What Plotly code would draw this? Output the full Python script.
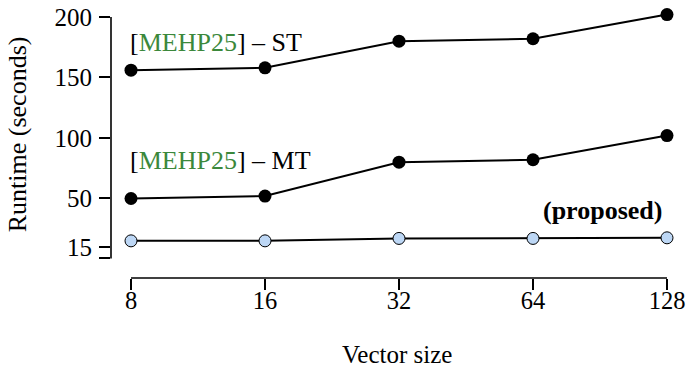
import numpy as np
import plotly.graph_objects as go

# ---- data ----
vector_sizes = [8, 16, 32, 64, 128]
mehp_st = [156, 158, 180, 182, 202]
mehp_mt = [50, 52, 80, 82, 102]
proposed = [15, 15, 17, 17, 17.5]

y_tick_pos = [0.5, 9.6, 50, 100, 150, 200]
y_tick_text = ["", "15", "50", "100", "150", "200"]

x_pos = list(np.log2(vector_sizes))

FONT = "Liberation Serif"
GREEN = "#3b883b"
BLUE = "#bdd7f5"

fig = go.Figure()
for ys in (mehp_st, mehp_mt):
    fig.add_trace(go.Scatter(
        x=x_pos, y=ys, mode="lines+markers",
        line=dict(color="black", width=2),
        marker=dict(color="black", size=13),
        cliponaxis=False, showlegend=False, hoverinfo="skip"))
fig.add_trace(go.Scatter(
    x=x_pos, y=proposed, mode="lines+markers",
    line=dict(color="black", width=2),
    marker=dict(color=BLUE, size=12, line=dict(color="black", width=1)),
    cliponaxis=False, showlegend=False, hoverinfo="skip"))

fig.update_layout(
    width=686, height=367,
    margin=dict(l=111, r=6, t=5, b=89),
    plot_bgcolor="white", paper_bgcolor="white",
    font=dict(family=FONT, size=25, color="black"),
    xaxis=dict(
        range=[2.8507, 7.097], anchor="free", position=0,
        tickvals=x_pos, ticktext=[str(v) for v in vector_sizes],
        showline=False, showgrid=False, zeroline=False, automargin=False,
        ticks="outside", ticklen=11, tickwidth=1.6, tickcolor="black",
        ticklabelstandoff=-10, ticklabeloverflow="allow",
        tickfont=dict(family=FONT, size=24.5)),
    yaxis=dict(
        range=[0, 209.9], domain=[0.0696, 1],
        tickvals=y_tick_pos, ticktext=y_tick_text,
        showline=False, showgrid=False, zeroline=False, automargin=False,
        ticks="outside", ticklen=11, tickwidth=1.6, tickcolor="black",
        ticklabelstandoff=2, ticklabeloverflow="allow",
        tickfont=dict(family=FONT, size=25)),
    shapes=[
        dict(type="line", xref="paper", yref="y", x0=0, x1=0,
             y0=y_tick_pos[0], y1=y_tick_pos[-1],
             line=dict(color="black", width=1.6)),
        dict(type="line", xref="x", yref="paper", x0=x_pos[0], x1=x_pos[-1],
             y0=0, y1=0, line=dict(color="black", width=1.6)),
    ],
    annotations=[
        dict(text=f'[<span style="color:{GREEN}">MEHP25</span>] – ST',
             xref="x", yref="y", x=2.978, y=179.3, xanchor="left",
             yanchor="middle", showarrow=False, font=dict(size=26)),
        dict(text=f'[<span style="color:{GREEN}">MEHP25</span>] – MT',
             xref="x", yref="y", x=2.978, y=81, xanchor="left",
             yanchor="middle", showarrow=False, font=dict(size=26)),
        dict(text="<b>(proposed)</b>",
             xref="x", yref="y", x=6.978, y=39.7, xanchor="right",
             yanchor="middle", showarrow=False, font=dict(size=26)),
        dict(text="Runtime (seconds)", xref="paper", yref="paper",
             x=-0.163, y=0.5275, textangle=-90, xanchor="center",
             yanchor="middle", showarrow=False, font=dict(size=26)),
        dict(text="Vector size", xref="paper", yref="paper",
             x=0.5026, y=-0.282, xanchor="center", yanchor="middle",
             showarrow=False, font=dict(size=25)),
    ],
)

# remove the page's default body margin so the 686x367 figure fills the window
fig.write_html(
    "out.html",
    config={"displayModeBar": False},
    post_script="document.body.style.margin='0';document.body.style.overflow='hidden';",
)
